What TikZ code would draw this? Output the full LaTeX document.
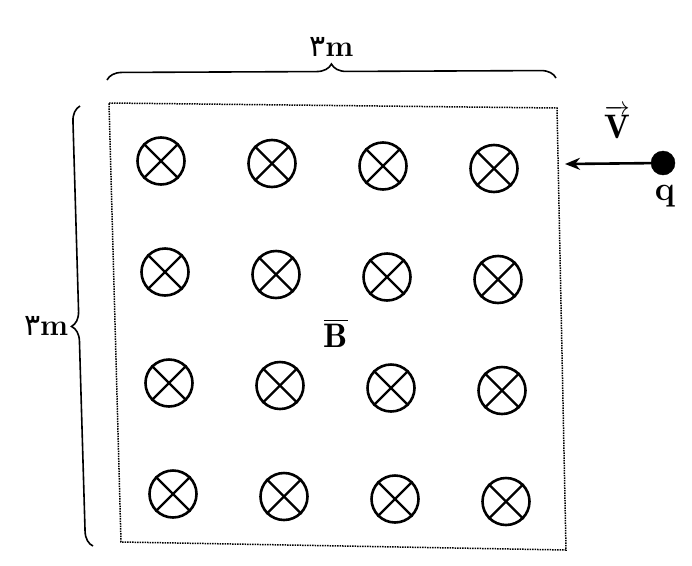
\documentclass[tikz,border=0pt]{standalone}
\usepackage{amsmath}
\usepackage{fontspec}
\usepackage{tikz}
\usetikzlibrary{positioning, arrows.meta, calc, decorations.pathreplacing}
\newfontfamily\arabicfont[Script=Arabic]{DejaVu Sans}
\def\cellsize{47pt}
\tikzstyle{arrow} = [black, -{Stealth[length=15pt, width=12pt]}, line width=2.6pt]
\tikzstyle{brace} = [black, decorate, decoration={brace, amplitude=15pt}, line width=1.6pt]
\tikzstyle{cross} = [black, line width=2.4pt]
\tikzstyle{border} = [black, densely dotted, line width=1.5pt]
\newcommand{\tikzfieldnode}{\node[
  draw, circle, line width=2.6pt, minimum size=\cellsize, inner sep=0
]}
\newcommand{\tikzlabelnode}{\node[
  draw=none, inner sep=0, font=\fontsize{34pt}{38pt}\selectfont\bfseries
]}

\begin{document}
\begin{tikzpicture}[x=1pt, y=-1pt]
    \useasboundingbox (0, 0) rectangle (692, 565);
    % region
    \coordinate (c-tl) at (109, 103);
    \coordinate (c-tr) at (557, 108);
    \coordinate (c-br) at (566, 550);
    \coordinate (c-bl) at (121, 542);
    \draw[border] (c-tl) -- (c-tr) -- (c-br) -- (c-bl) -- cycle;
    \coordinate (top-l) at (107, 80);
    \coordinate (top-r) at (556, 78);
    \coordinate (side-b) at (93, 546);
    \coordinate (side-t) at (80, 106);

    % field lines into the page
    \foreach \i in {0, ..., 3} {
      \foreach \j in {0, ..., 3} {
        \tikzfieldnode at ({161 + 111*\j + 4*\i}, {161 + 111*\i + 2.5*\j}) (f-\i-\j) {};
        \draw[cross] (f-\i-\j.45) -- (f-\i-\j.225);
        \draw[cross] (f-\i-\j.135) -- (f-\i-\j.315);
      }
    }
    \tikzlabelnode at (336, 333) (B) {$\overline{\mathbf{B}}$};

    % braces
    \draw[brace] (top-l) -- (top-r) node[midway, above=18pt, font=\fontsize{30pt}{34pt}\selectfont\bfseries] (top-len) {{\arabicfont\mdseries ۳}m};
    \draw[brace] (side-b) -- (side-t) node[midway, left=14pt, font=\fontsize{30pt}{34pt}\selectfont\bfseries] (side-len) {{\arabicfont\mdseries ۳}m};

    % charge
    \node[draw, circle, fill=black, minimum size=24pt, inner sep=0] at (663, 163) (q-dot) {};
    \coordinate (tip) at (565, 164);
    \tikzlabelnode at (617, 122) (V) {$\overrightarrow{\mathbf{V}}$};
    \tikzlabelnode at (665, 196) (q) {q};

    % arrows
    \draw[arrow] (q-dot) -- (tip);
\end{tikzpicture}
\end{document}
